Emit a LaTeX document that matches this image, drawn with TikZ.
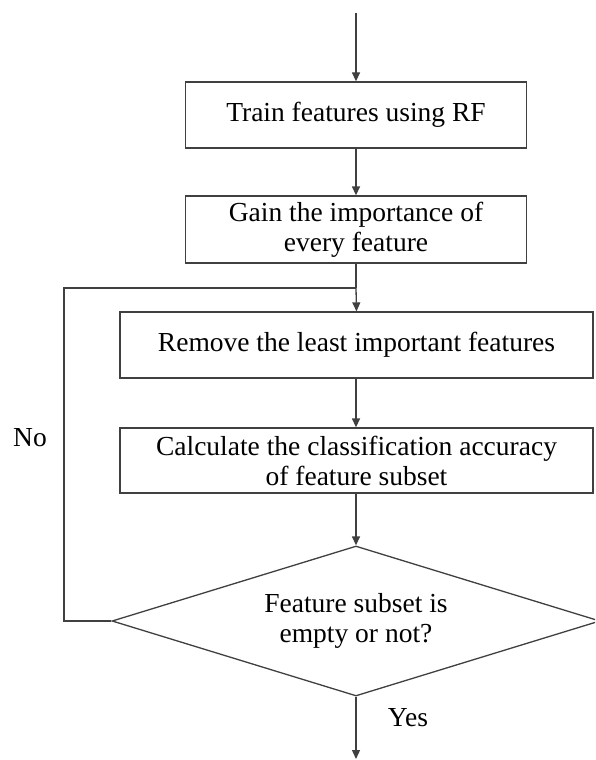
\documentclass[tikz,border=0pt]{standalone}
\usepackage{fontspec}
\setmainfont{Liberation Serif}
\usetikzlibrary{arrows.meta,shapes.geometric}
\begin{document}
\begin{tikzpicture}[x=1pt,y=-1pt,
  line/.style={draw=black!75,line width=1.3pt},
  arr/.style={line,-{Triangle[length=9pt,width=8pt]}},
  txt/.style={font=\fontsize{27.5}{30}\selectfont},
  procbox/.style={line,txt,rectangle,inner sep=0pt,align=center},
  lbl/.style={txt,inner sep=0pt}]
\clip (0,0) rectangle (595,760);
\fill[white] (0,0) rectangle (595,760);
\node[procbox,minimum width=341pt,minimum height=66pt] (b1) at (356,115) {Train features using RF};
\node[procbox,minimum width=341pt,minimum height=67pt] (b2) at (356,229.5) {Gain the importance of\\every feature};
\node[procbox,minimum width=473pt,minimum height=66pt] (b3) at (356.5,345) {Remove the least important features};
\node[procbox,minimum width=473pt,minimum height=65pt] (b4) at (356.5,460.5) {Calculate the classification accuracy\\of feature subset};
\node[line,txt,diamond,shape aspect=3.25,inner sep=0pt,minimum width=488pt,minimum height=150pt,align=center] (d) at (356,621) {Feature subset is\\empty or not?};
\coordinate (start) at (356,13);
\coordinate (join) at (356,288);
\coordinate (lc1) at (64,621);
\coordinate (lc2) at (64,288);
\coordinate (end) at (356,759);
\node[lbl] (no) at (30,438) {No};
\node[lbl] (yes) at (408,718) {Yes};
\draw[arr] (start) -- (b1.north);
\draw[arr] (b1.south) -- (b2.north);
\draw[arr] (join) -- (b3.north);
\draw[line] (b2.south) -- (join);
\draw[arr] (b3.south -| b1.south) -- (b4.north -| b1.south);
\draw[arr] (b4.south -| b1.south) -- (d.north);
\draw[line] (d.west) -- (lc1) -- (lc2) -- (join);
\draw[arr] (d.south) -- (end);
\end{tikzpicture}
\end{document}
